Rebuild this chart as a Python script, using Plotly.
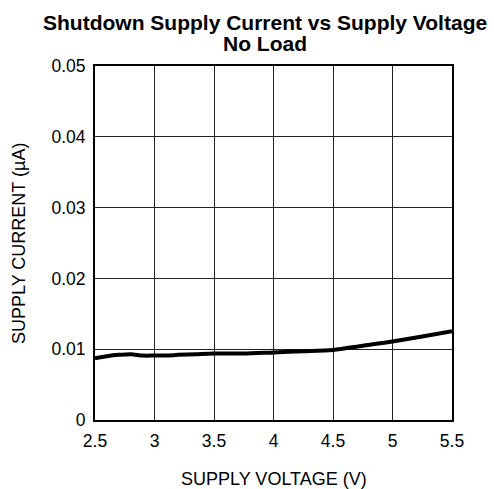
import plotly.graph_objects as go

# Supply voltage (V) and shutdown supply current (uA), no load
supply_voltage = [2.5, 2.6, 2.7, 2.8, 2.9, 3.0, 3.1, 3.2, 3.35, 3.5, 3.75, 4.0, 4.25, 4.5, 4.75, 5.0, 5.25, 5.5]
supply_current = [0.0087, 0.0090, 0.0092, 0.0093, 0.0091, 0.0091, 0.0091, 0.0092, 0.0093, 0.0094, 0.0094, 0.00955, 0.0097, 0.0099, 0.0105, 0.0111, 0.0118, 0.01255]

x_ticks = [2.5, 3, 3.5, 4, 4.5, 5, 5.5]
x_tick_labels = ["2.5", "3", "3.5", "4", "4.5", "5", "5.5"]
y_ticks = [0, 0.01, 0.02, 0.03, 0.04, 0.05]
y_tick_labels = ["0", "0.01", "0.02", "0.03", "0.04", "0.05"]

title_line1 = "Shutdown Supply Current vs Supply Voltage"
title_line2 = "No Load"
x_title = "SUPPLY VOLTAGE (V)"
y_title = "SUPPLY CURRENT (µA)"

font_family = "Liberation Sans, Arial, sans-serif"
W, H = 494, 489
M_L, M_R, M_T, M_B = 95, 42, 66, 69
plot_h = H - M_T - M_B


def py(pixel_y):
    """Convert a pixel row to paper y."""
    return (H - M_B - pixel_y) / plot_h


def px(pixel_x):
    return (pixel_x - M_L) / (W - M_L - M_R)


fig = go.Figure()
fig.add_trace(go.Scatter(
    x=supply_voltage, y=supply_current, mode="lines",
    line=dict(color="black", width=4, shape="spline", smoothing=0.8),
    showlegend=False, hoverinfo="skip",
))

axis_common = dict(
    showline=True, linecolor="black", linewidth=2, mirror=True,
    showgrid=True, gridcolor="#222222", gridwidth=1,
    zeroline=False, ticks="", tickfont=dict(family=font_family, size=17.5, color="black"),
)

text_font = dict(family=font_family, size=18, color="black")
title_font = dict(family=font_family, size=21, color="black")

fig.update_layout(
    width=W, height=H,
    margin=dict(l=M_L, r=M_R, t=M_T, b=M_B),
    paper_bgcolor="white", plot_bgcolor="white",
    xaxis=dict(range=[2.5, 5.5], tickvals=x_ticks, ticktext=x_tick_labels,
               ticklabelstandoff=4, **axis_common),
    yaxis=dict(range=[0, 0.05], tickvals=y_ticks, ticktext=y_tick_labels,
               ticklabelstandoff=4, **axis_common),
    annotations=[
        dict(text=f"<b>{title_line1}</b>", x=px(265), y=py(22.5), xref="paper", yref="paper",
             xanchor="center", yanchor="middle", showarrow=False, font=title_font),
        dict(text=f"<b>{title_line2}</b>", x=px(265), y=py(43), xref="paper", yref="paper",
             xanchor="center", yanchor="middle", showarrow=False, font=title_font),
        dict(text=x_title, x=px(274), y=py(479), xref="paper", yref="paper",
             xanchor="center", yanchor="middle", showarrow=False, font=text_font),
        dict(text=y_title, x=px(19), y=py(244), xref="paper", yref="paper",
             xanchor="center", yanchor="middle", showarrow=False, font=text_font, textangle=-90),
    ],
)

fig.write_html("out.html")
